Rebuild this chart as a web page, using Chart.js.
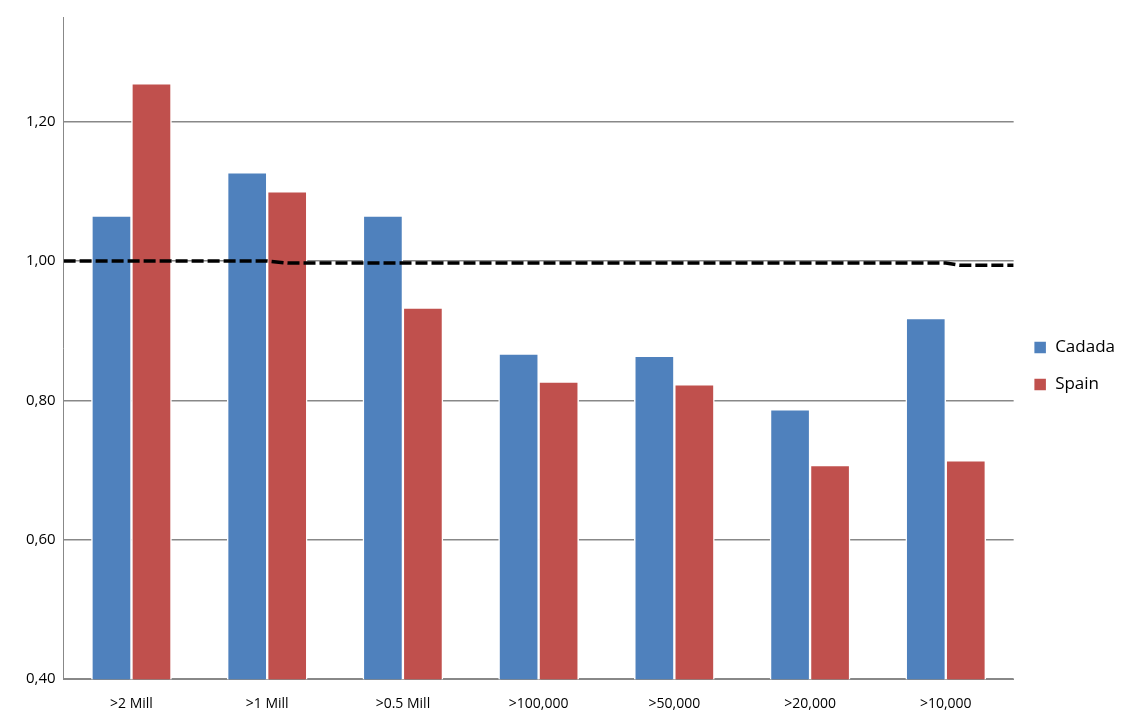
<!DOCTYPE html>
<html><head><meta charset="utf-8">
<script src="https://cdn.jsdelivr.net/npm/chart.js@4"></script>
<style>body{margin:0;background:#fff}#wrap{width:1135px;height:724px}</style>
</head><body><div id="wrap"><canvas id="c"></canvas></div>
<script>
var categories = ['>2 Mill', '>1 Mill', '>0.5 Mill', '>100,000', '>50,000', '>20,000', '>10,000'];
var cadada = [1.065, 1.127, 1.065, 0.867, 0.864, 0.787, 0.918];
var spain = [1.255, 1.100, 0.933, 0.827, 0.823, 0.707, 0.714];
// reference line across the whole plot, positions in category units
var baseX = [-0.5, 1.0, 1.15, 6.0, 6.1, 6.5];
var baseY = [1.000, 1.000, 0.997, 0.997, 0.994, 0.994];
var tickValues = [0.4, 0.6, 0.8, 1.0, 1.2];

Chart.defaults.font.family = 'Open Sans, Liberation Sans, sans-serif';
Chart.defaults.color = '#000';

new Chart(document.getElementById('c'), {
  data: {
    labels: categories,
    datasets: [
      { type: 'line', label: 'base', xAxisID: 'xl',
        data: baseX.map(function (x, i) { return { x: x, y: baseY[i] }; }),
        borderColor: '#000', borderWidth: 3.5, borderDash: [12, 4], pointRadius: 0, order: 0 },
      { type: 'bar', label: 'Cadada', data: cadada, backgroundColor: '#4f81bd',
        borderColor: '#fff', borderWidth: 1.5, barThickness: 40, order: 1 },
      { type: 'bar', label: 'Spain', data: spain, backgroundColor: '#c0504d',
        borderColor: '#fff', borderWidth: 1.5, barThickness: 40, order: 1 }
    ]
  },
  options: {
    responsive: true, maintainAspectRatio: false, animation: false,
    layout: { padding: { top: 12, right: 10, bottom: 4, left: 18 } },
    plugins: {
      tooltip: { enabled: false },
      legend: {
        position: 'right',
        labels: { filter: function (l) { return l.text !== 'base'; },
          boxWidth: 13, boxHeight: 13, padding: 20, font: { size: 17 } }
      }
    },
    scales: {
      x: {
        grid: { display: false }, border: { color: '#888' },
        ticks: { font: { size: 14 }, padding: 8 }
      },
      xl: { type: 'linear', min: -0.5, max: 6.5, display: false },
      y: {
        min: 0.4, max: 1.35,
        afterBuildTicks: function (s) { s.ticks = tickValues.map(function (v) { return { value: v }; }); },
        ticks: { font: { size: 15 }, padding: 8,
          callback: function (v) { return v.toFixed(2).replace('.', ','); } },
        grid: { color: '#888', lineWidth: 1.5, drawTicks: false },
        border: { color: '#888' }
      }
    }
  }
});
</script></body></html>
